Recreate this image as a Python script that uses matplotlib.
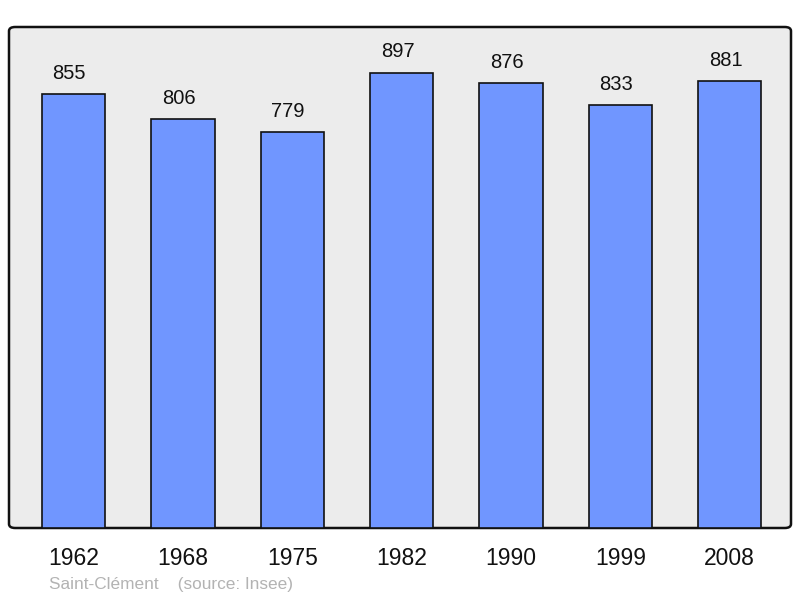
import matplotlib
matplotlib.use("Agg")
import matplotlib.pyplot as plt
from matplotlib.patches import FancyBboxPatch

years = ["1962", "1968", "1975", "1982", "1990", "1999", "2008"]
population = [855, 806, 779, 897, 876, 833, 881]
caption = "Saint-Clément    (source: Insee)"

plt.rcParams['font.family'] = ['Liberation Sans', 'DejaVu Sans']

fig = plt.figure(figsize=(8, 5.98), dpi=100)
ax = fig.add_axes([9/800, 1 - 528/598, 782/800, 501/598])
ax.set_facecolor('none')
for s in ax.spines.values():
    s.set_visible(False)

bg = FancyBboxPatch((0, 0), 1, 1, boxstyle="round,pad=0,rounding_size=0.008",
                    transform=ax.transAxes, facecolor='#ececec', edgecolor='#111111',
                    linewidth=1.8, zorder=0, clip_on=False)
ax.add_patch(bg)

x = list(range(len(years)))
bars = ax.bar(x, population, width=0.58, color='#7096ff', edgecolor='#111111',
              linewidth=1.2, zorder=2)
for xi, v in zip(x, population):
    ax.annotate(str(v), (xi, v), xytext=(-3, 8), textcoords='offset points',
                ha='center', va='bottom', fontsize=14.5, color='#111111')

ax.set_xlim(-0.59, 6.56)
ax.set_ylim(0, max(population) * 1.1)
ax.set_xticks(x)
ax.set_xticklabels(years, fontsize=16.5, color='#111111')
ax.tick_params(axis='x', length=0, pad=14)
ax.set_yticks([])

fig.text(49/800, 1 - 584/598, caption, fontsize=12.4, color='#b3b3b3', ha='left', va='center')

fig.savefig("out.png", dpi=100)
